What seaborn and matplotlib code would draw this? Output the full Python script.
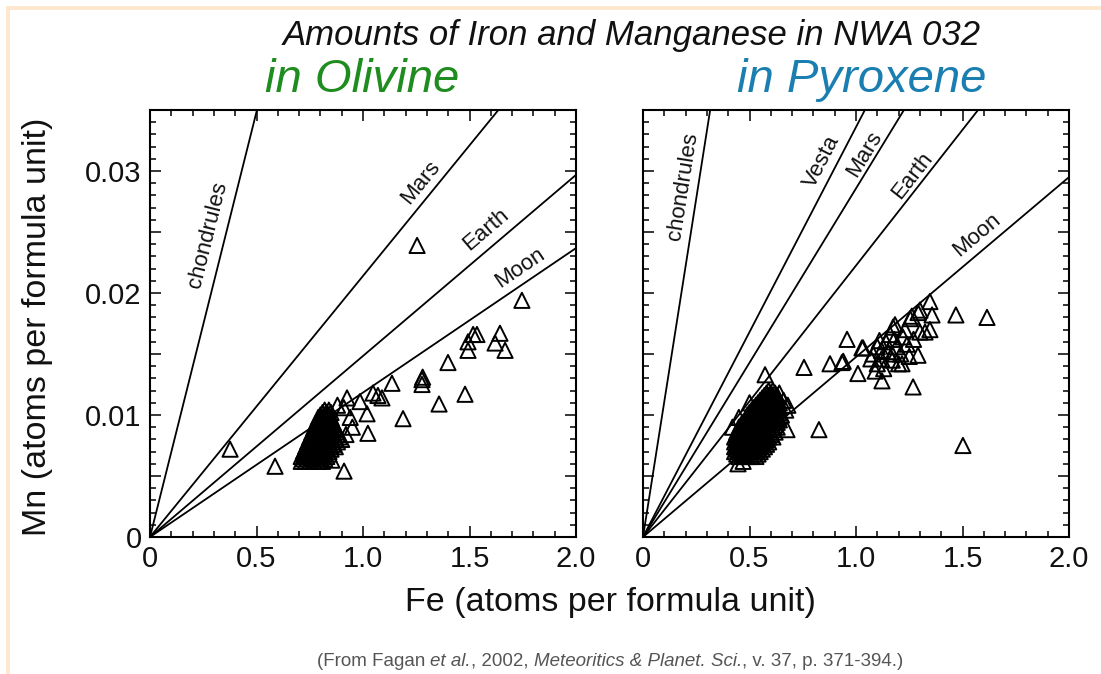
import numpy as np
import pandas as pd
import matplotlib
matplotlib.use("Agg")
import matplotlib.pyplot as plt
import matplotlib.patches as mpatches
import seaborn as sns

# ---------------- data ----------------
# reference lines: Mn/Fe ratio (slope) for each body
olv_line_names = ["chondrules", "Mars", "Earth", "Moon"]
olv_line_slopes = [0.0697, 0.0214, 0.01484, 0.01184]
olv_label_fe = [0.27, 1.27, 1.575, 1.735]
olv_label_mn = [0.0248, 0.0291, 0.0252, 0.0221]

pyx_line_names = ["chondrules", "Vesta", "Mars", "Earth", "Moon"]
pyx_line_slopes = [0.111, 0.0336, 0.02857, 0.02225, 0.01475]
pyx_label_fe = [0.19, 0.84, 1.04, 1.265, 1.565]
pyx_label_mn = [0.0287, 0.0308, 0.0314, 0.0296, 0.0248]

# olivine: scattered analyses (Fe, Mn atoms per formula unit)
olv_fe = [0.376, 0.587, 0.911, 1.254, 1.746, 1.517, 1.493, 1.535, 1.493, 1.643,
          1.620, 1.667, 1.399, 1.136, 1.277, 1.277, 1.280, 1.479, 1.357, 1.188,
          1.023, 1.089, 1.070, 1.047, 1.019, 0.986, 0.925, 0.854,
          0.91, 0.88, 0.94, 0.95, 0.90, 0.92]
olv_mn = [0.0072, 0.0058, 0.0054, 0.0239, 0.0194, 0.0166, 0.0160, 0.0166, 0.0153, 0.0167,
          0.0159, 0.0153, 0.0143, 0.0126, 0.0129, 0.0125, 0.0131, 0.0117, 0.0109, 0.0097,
          0.0085, 0.0114, 0.0116, 0.0118, 0.0101, 0.0111, 0.0114, 0.0063,
          0.0106, 0.0108, 0.0098, 0.0090, 0.0080, 0.0084]

# olivine: dense cluster, listed row by row (Mn value, Fe values)
olv_cluster_rows = [
    (0.0062, [0.71, 0.73, 0.75, 0.77, 0.79, 0.81]),
    (0.0064, [0.72, 0.74, 0.76, 0.78, 0.80, 0.82]),
    (0.0066, [0.71, 0.73, 0.75, 0.77, 0.79, 0.81, 0.83]),
    (0.0068, [0.72, 0.74, 0.76, 0.78, 0.80, 0.82, 0.84]),
    (0.0070, [0.72, 0.74, 0.76, 0.78, 0.80, 0.82, 0.84]),
    (0.0072, [0.73, 0.75, 0.77, 0.79, 0.81, 0.83, 0.85]),
    (0.0074, [0.73, 0.75, 0.77, 0.79, 0.81, 0.83, 0.85, 0.87]),
    (0.0076, [0.74, 0.76, 0.78, 0.80, 0.82, 0.84, 0.86]),
    (0.0078, [0.74, 0.76, 0.78, 0.80, 0.82, 0.84, 0.86, 0.88]),
    (0.0080, [0.75, 0.77, 0.79, 0.81, 0.83, 0.85, 0.87]),
    (0.0082, [0.75, 0.77, 0.79, 0.81, 0.83, 0.85, 0.87, 0.89]),
    (0.0084, [0.76, 0.78, 0.80, 0.82, 0.84, 0.86, 0.88]),
    (0.0086, [0.76, 0.78, 0.80, 0.82, 0.84, 0.86, 0.88]),
    (0.0088, [0.77, 0.79, 0.81, 0.83, 0.85, 0.87]),
    (0.0090, [0.77, 0.79, 0.81, 0.83, 0.85, 0.87]),
    (0.0092, [0.78, 0.80, 0.82, 0.84, 0.86]),
    (0.0094, [0.78, 0.80, 0.82, 0.84, 0.86]),
    (0.0096, [0.79, 0.81, 0.83, 0.85]),
    (0.0098, [0.79, 0.81, 0.83, 0.85]),
    (0.0100, [0.80, 0.82, 0.84]),
    (0.0102, [0.81, 0.83, 0.85]),
    (0.0104, [0.82, 0.84]),
]

# pyroxene: scattered analyses
pyx_fe = [1.502, 0.826, 0.676, 0.446, 0.573, 0.756, 0.878, 0.934, 0.958, 1.009,
          1.122, 1.268, 1.469, 1.615, 1.291, 1.216, 1.347, 1.357, 1.347, 1.300,
          1.262, 1.174, 1.033, 1.324, 1.028, 0.940, 1.183, 1.254, 1.291, 1.300,
          1.08, 1.10, 1.12, 1.14, 1.15, 1.17, 1.18, 1.19, 1.21, 1.22, 1.10, 1.13,
          1.16, 1.20, 1.24, 1.25, 1.07, 1.12, 1.17, 1.23, 1.27, 1.11, 1.09,
          0.47, 0.64, 0.66, 0.68, 0.42, 0.45, 0.50, 0.67]
pyx_mn = [0.0075, 0.0088, 0.0088, 0.0060, 0.0133, 0.0139, 0.0142, 0.0143, 0.0162, 0.0134,
          0.0128, 0.0123, 0.0182, 0.0180, 0.0149, 0.0142, 0.0193, 0.0182, 0.0170, 0.0186,
          0.0181, 0.0172, 0.0155, 0.0168, 0.0155, 0.0144, 0.0174, 0.0179, 0.0184, 0.0168,
          0.0150, 0.0156, 0.0146, 0.0160, 0.0152, 0.0145, 0.0162, 0.0156, 0.0150, 0.0164, 0.0142, 0.0138,
          0.0166, 0.0142, 0.0158, 0.0148, 0.0146, 0.0153, 0.0150, 0.0170, 0.0162, 0.0161, 0.0136,
          0.0062, 0.0118, 0.0112, 0.0108, 0.0090, 0.0098, 0.0110, 0.0104]

# pyroxene: dense cluster, row by row (Mn value, Fe values)
pyx_cluster_rows = [
    (0.0066, [0.45, 0.47, 0.49, 0.51, 0.53]),
    (0.0068, [0.44, 0.46, 0.48, 0.50, 0.52, 0.54]),
    (0.0070, [0.43, 0.45, 0.47, 0.49, 0.51, 0.53, 0.55]),
    (0.0072, [0.44, 0.46, 0.48, 0.50, 0.52, 0.54, 0.56]),
    (0.0074, [0.43, 0.45, 0.47, 0.49, 0.51, 0.53, 0.55, 0.57]),
    (0.0076, [0.44, 0.46, 0.48, 0.50, 0.52, 0.54, 0.56, 0.58]),
    (0.0078, [0.43, 0.45, 0.47, 0.49, 0.51, 0.53, 0.55, 0.57, 0.59]),
    (0.0080, [0.44, 0.46, 0.48, 0.50, 0.52, 0.54, 0.56, 0.58]),
    (0.0082, [0.43, 0.45, 0.47, 0.49, 0.51, 0.53, 0.55, 0.57, 0.59, 0.61]),
    (0.0084, [0.44, 0.46, 0.48, 0.50, 0.52, 0.54, 0.56, 0.58, 0.60]),
    (0.0086, [0.44, 0.46, 0.48, 0.50, 0.52, 0.54, 0.56, 0.58, 0.60, 0.62]),
    (0.0088, [0.45, 0.47, 0.49, 0.51, 0.53, 0.55, 0.57, 0.59, 0.61]),
    (0.0090, [0.45, 0.47, 0.49, 0.51, 0.53, 0.55, 0.57, 0.59, 0.61, 0.63]),
    (0.0092, [0.46, 0.48, 0.50, 0.52, 0.54, 0.56, 0.58, 0.60, 0.62]),
    (0.0094, [0.47, 0.49, 0.51, 0.53, 0.55, 0.57, 0.59, 0.61, 0.63]),
    (0.0096, [0.48, 0.50, 0.52, 0.54, 0.56, 0.58, 0.60, 0.62, 0.64]),
    (0.0098, [0.49, 0.51, 0.53, 0.55, 0.57, 0.59, 0.61, 0.63]),
    (0.0100, [0.49, 0.51, 0.53, 0.55, 0.57, 0.59, 0.61, 0.63, 0.65]),
    (0.0102, [0.50, 0.52, 0.54, 0.56, 0.58, 0.60, 0.62, 0.64]),
    (0.0104, [0.51, 0.53, 0.55, 0.57, 0.59, 0.61, 0.63]),
    (0.0106, [0.52, 0.54, 0.56, 0.58, 0.60, 0.62, 0.64]),
    (0.0108, [0.53, 0.55, 0.57, 0.59, 0.61, 0.63]),
    (0.0110, [0.54, 0.56, 0.58, 0.60, 0.62, 0.64]),
    (0.0112, [0.55, 0.57, 0.59, 0.61, 0.63]),
    (0.0114, [0.56, 0.58, 0.60, 0.62]),
    (0.0116, [0.57, 0.59, 0.61, 0.63]),
    (0.0118, [0.58, 0.60, 0.62]),
    (0.0120, [0.59, 0.61]),
]

x_ticks = [0, 0.5, 1.0, 1.5, 2.0]
x_tick_labels = ["0", "0.5", "1.0", "1.5", "2.0"]
y_ticks = [0, 0.005, 0.01, 0.015, 0.02, 0.025, 0.03, 0.035]
y_tick_labels = ["0", "", "0.01", "", "0.02", "", "0.03", ""]


def collect(fe, mn, rows):
    all_fe, all_mn = list(fe), list(mn)
    for m, fes in rows:
        all_fe.extend(fes)
        all_mn.extend([m] * len(fes))
    return pd.DataFrame({"Fe": all_fe, "Mn": all_mn})


olv_df = collect(olv_fe, olv_mn, olv_cluster_rows)
pyx_df = collect(pyx_fe, pyx_mn, pyx_cluster_rows)

# ---------------- style ----------------
sns.set_theme(style="ticks")
FONTS = ["Liberation Sans", "DejaVu Sans"]
plt.rcParams["font.family"] = FONTS

W, H = 1101, 674
fig = plt.figure(figsize=(W / 100, H / 100), dpi=100)
fig.patch.set_facecolor("white")

peach = "#fde8cf"
fig.add_artist(mpatches.Rectangle((6 / W, 1 - 10 / H), 1 - 6 / W, 4 / H,
                                  transform=fig.transFigure, color=peach, lw=0))
fig.add_artist(mpatches.Rectangle((6 / W, 0), 4 / W, 1 - 6 / H,
                                  transform=fig.transFigure, color=peach, lw=0))

ax_w, ax_h = 426 / W, 427 / H
ax1 = fig.add_axes([150 / W, (H - 537) / H, ax_w, ax_h])
ax2 = fig.add_axes([643 / W, (H - 537) / H, ax_w, ax_h])


def draw_panel(ax, df, names, slopes, lfe, lmn, show_y):
    ax.set_xlim(0, 2.0)
    ax.set_ylim(0, 0.035)
    for s in slopes:
        ax.axline((0, 0), slope=s, color="black", lw=1.3, zorder=2)
    sns.scatterplot(data=df, x="Fe", y="Mn", ax=ax, marker="^", s=120,
                    edgecolor="black", linewidth=1.4, zorder=3, legend=False)
    ax.collections[-1].set_facecolor("none")
    for name, s, x, y in zip(names, slopes, lfe, lmn):
        ax.text(x, y, name, rotation=np.degrees(np.arctan(s)),
                transform_rotates_text=True, rotation_mode="anchor",
                ha="center", va="center", fontsize=16, color="#111111",
                zorder=4)
    ax.set_xticks(x_ticks)
    ax.set_xticklabels(x_tick_labels)
    ax.set_xticks(np.arange(0, 2.0001, 0.1), minor=True)
    ax.set_yticks(y_ticks)
    ax.set_yticks(np.arange(0, 0.03501, 0.001), minor=True)
    if show_y:
        ax.set_yticklabels(y_tick_labels)
    else:
        ax.set_yticklabels([])
    ax.tick_params(which="both", direction="in", top=True, right=True,
                   color="black", width=1.1)
    ax.tick_params(which="major", length=8, labelsize=21, pad=6,
                   labelcolor="#111111")
    ax.tick_params(which="minor", length=4.5)
    ax.set_xlabel("")
    ax.set_ylabel("")
    for sp in ax.spines.values():
        sp.set_linewidth(1.5)
        sp.set_color("black")
        sp.set_visible(True)
    ax.set_facecolor("white")


draw_panel(ax1, olv_df, olv_line_names, olv_line_slopes,
           olv_label_fe, olv_label_mn, True)
draw_panel(ax2, pyx_df, pyx_line_names, pyx_line_slopes,
           pyx_label_fe, pyx_label_mn, False)

fig.text(632 / W, 1 - 35 / H, "Amounts of Iron and Manganese in NWA 032",
         ha="center", va="center", fontsize=25, style="italic", color="#111111")
fig.text(362 / W, 1 - 80 / H, "in Olivine", ha="center", va="center",
         fontsize=34, style="italic", color="#1e8c1e")
fig.text(862 / W, 1 - 80 / H, "in Pyroxene", ha="center", va="center",
         fontsize=34, style="italic", color="#1a7fb0")
fig.text(38 / W, 1 - 327 / H, "Mn (atoms per formula unit)", ha="center",
         va="center", rotation=90, fontsize=24.5, color="#111111")
fig.text(610 / W, 1 - 603 / H, "Fe (atoms per formula unit)", ha="center",
         va="center", fontsize=24.5, color="#111111")

# caption with mixed italic pieces
cap_parts = [("(From Fagan ", "normal"), ("et al.", "italic"), (", 2002, ", "normal"),
             ("Meteoritics & Planet. Sci.", "italic"), (", v. 37, p. 371-394.)", "normal")]
fig.canvas.draw()
renderer = fig.canvas.get_renderer()
texts = []
for s, st in cap_parts:
    t = fig.text(0, 1 - 661 / H, s, ha="left", va="center", fontsize=13.5,
                 style=st, color="#555555")
    texts.append(t)
widths = [t.get_window_extent(renderer).width for t in texts]
x0 = 610 - sum(widths) / 2
for t, w in zip(texts, widths):
    t.set_x(x0 / W)
    x0 += w

fig.savefig("out.png", dpi=100, facecolor="white")
